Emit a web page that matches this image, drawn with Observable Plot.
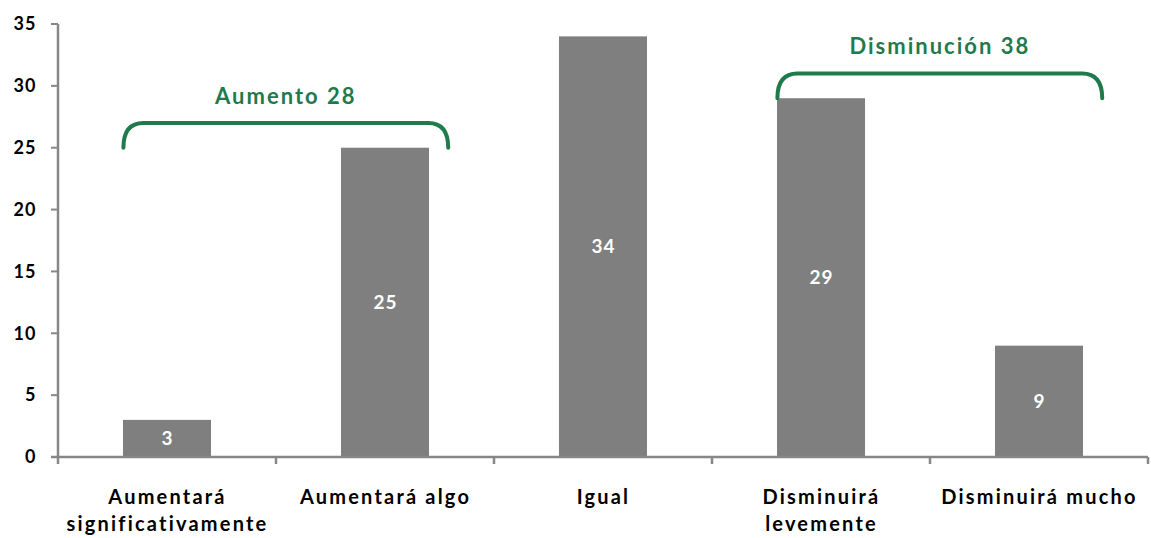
<!DOCTYPE html>
<html>
<head>
<meta charset="utf-8">
<script src="https://cdn.jsdelivr.net/npm/d3@7"></script>
<script src="https://cdn.jsdelivr.net/npm/@observablehq/plot@0.6"></script>
<style>
  html, body { margin: 0; padding: 0; background: #fff; }
  #chart svg { display: block; }
</style>
</head>
<body>
<div id="chart"></div>
<script>
// ---- data ----
const categories = ["Aumentará significativamente", "Aumentará algo", "Igual", "Disminuirá levemente", "Disminuirá mucho"];
const values = [3, 25, 34, 29, 9];
const tickLabels = ["Aumentará\nsignificativamente", "Aumentará algo", "Igual", "Disminuirá\nlevemente", "Disminuirá mucho"];
const yTicks = [0, 5, 10, 15, 20, 25, 30, 35];
const groupNames = ["Aumento", "Disminución"];
const groupTotals = [28, 38];
const groupFirst = ["Aumentará significativamente", "Disminuirá levemente"];
const groupLast = ["Aumentará algo", "Disminuirá mucho"];

const data = categories.map((c, i) => ({category: c, value: values[i], label: tickLabels[i]}));
const groups = groupNames.map((g, i) => {
  const i0 = categories.indexOf(groupFirst[i]), i1 = categories.indexOf(groupLast[i]);
  return {name: g, total: groupTotals[i], first: groupFirst[i], last: groupLast[i],
          max: d3.max(values.slice(i0, i1 + 1))};
});

const FONT = "Lato, 'Open Sans', sans-serif";
const GREEN = "#1f7a4c";
const AXIS = "#878787";

function decorations(index, scales, values_, dimensions) {
  const {x, y} = scales;
  const bw = typeof x.bandwidth === "function" ? x.bandwidth() : x.bandwidth;
  const {marginLeft, marginRight, width} = dimensions;
  const g = d3.create("svg:g");
  const y0 = y(0);
  // y axis line
  g.append("line").attr("x1", marginLeft).attr("x2", marginLeft)
    .attr("y1", y(35)).attr("y2", y0 + 1).attr("stroke", AXIS).attr("stroke-width", 2.5);
  // y ticks
  for (const t of yTicks) {
    g.append("line").attr("x1", marginLeft - 7).attr("x2", marginLeft)
      .attr("y1", y(t)).attr("y2", y(t)).attr("stroke", AXIS).attr("stroke-width", 2);
  }
  // x axis line
  g.append("line").attr("x1", marginLeft - 7).attr("x2", width - marginRight)
    .attr("y1", y0).attr("y2", y0).attr("stroke", AXIS).attr("stroke-width", 2.5);
  // x category boundary ticks
  const bounds = categories.map(c => x(c)).concat([x(categories[categories.length - 1]) + bw]);
  for (const b of bounds) {
    g.append("line").attr("x1", b).attr("x2", b)
      .attr("y1", y0).attr("y2", y0 + 7).attr("stroke", AXIS).attr("stroke-width", 2.5);
  }
  // brackets
  for (const gr of groups) {
    const left = x(gr.first) + bw * 0.3;
    const right = x(gr.last) + bw * 0.79;
    const yl = y(gr.max + 2);
    const ye = y(gr.max);
    const r = 20;
    g.append("path")
      .attr("d", `M${left},${ye} Q${left},${yl} ${left + r},${yl} L${right - r},${yl} Q${right},${yl} ${right},${ye}`)
      .attr("fill", "none").attr("stroke", GREEN).attr("stroke-width", 4).attr("stroke-linecap", "round");
    g.append("text")
      .attr("x", (left + right) / 2).attr("y", y(gr.max + 4))
      .attr("text-anchor", "middle").attr("dominant-baseline", "middle")
      .attr("fill", GREEN).attr("font-weight", "bold").attr("font-size", 22)
      .attr("font-family", FONT).attr("letter-spacing", "2px")
      .text(`${gr.name} ${gr.total}`);
  }
  return g.node();
}

const chart = Plot.plot({
  width: 1151,
  height: 538,
  marginTop: 24,
  marginBottom: 81,
  marginLeft: 58,
  marginRight: 3,
  style: {fontFamily: FONT, fontSize: "18px", fontWeight: "bold", color: "#000", background: "#fff", letterSpacing: "1px"},
  x: {domain: categories, padding: 0, axis: null},
  y: {domain: [0, 35], ticks: yTicks, tickSize: 0, tickPadding: 22, label: null, tickFormat: d => d},
  marks: [
    Plot.barY(data, {x: "category", y: "value", fill: "#7f7f7f", insetLeft: 65, insetRight: 65}),
    Plot.text(data, {x: "category", y: d => d.value / 2, text: d => String(d.value),
      fill: "#fff", fontWeight: "bold", fontSize: 19, fontFamily: FONT}),
    Plot.text(data, {x: "category", text: "label", frameAnchor: "bottom", lineAnchor: "top",
      dy: 27, fill: "#000", fontWeight: "bold", fontSize: 20, lineHeight: 1.35, fontFamily: FONT}),
    decorations
  ]
});
// wider tracking for the category labels, as in the reference
const flat = new Set(tickLabels.map(s => s.replace(/\n/g, "")));
chart.querySelectorAll("text").forEach(t => {
  if (flat.has(t.textContent)) t.style.letterSpacing = "2.2px";
});
document.getElementById("chart").appendChild(chart);
</script>
</body>
</html>
